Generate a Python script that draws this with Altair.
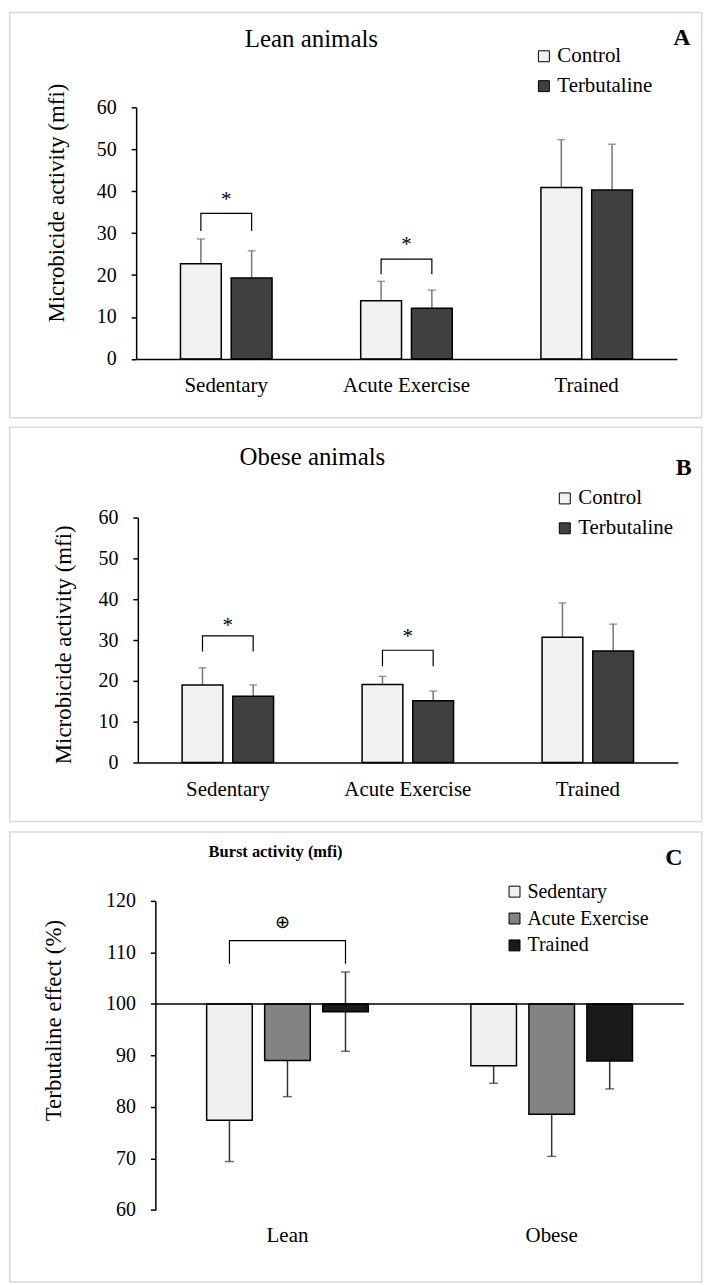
import altair as alt
import pandas as pd

FONT = "Liberation Serif"

# ---------------- data ----------------
groups_ab = ["Sedentary", "Acute Exercise", "Trained"]
series_ab = ["Control", "Terbutaline"]
colors_ab = ["#f2f2f2", "#404040"]

lean_control = [22.7, 13.9, 40.9]
lean_control_sd = [5.9, 4.6, 11.4]
lean_terb = [19.3, 12.1, 40.3]
lean_terb_sd = [6.5, 4.3, 10.9]

obese_control = [19.0, 19.1, 30.7]
obese_control_sd = [4.2, 2.0, 8.4]
obese_terb = [16.2, 15.1, 27.3]
obese_terb_sd = [2.8, 2.4, 6.6]

sig_groups = ["Sedentary", "Acute Exercise"]
lean_sig_top = [34.7, 23.8]
lean_sig_end = [30.5, 20.2]
lean_star = [37.9, 27.1]
obese_sig_top = [31.0, 27.5]
obese_sig_end = [27.2, 23.6]
obese_star = [33.4, 30.7]

groups_c = ["Lean", "Obese"]
series_c = ["Sedentary", "Acute Exercise", "Trained"]
colors_c = ["#f0f0f0", "#838383", "#1a1a1a"]
burst_lean = [77.4, 89.0, 98.5]
burst_lean_err = [8.0, 7.0, 7.7]
burst_obese = [88.0, 78.6, 88.9]
burst_obese_err = [3.4, 8.2, 5.4]
c_sig_top = 112.3
c_sig_end = 107.8
c_sig_mark = 115.8

FS_TICK = 20
FS_CAT = 21
FS_LEG = 21
FS_YT = 23
FRAME = "#d9d9d9"

# every panel's plot area starts at page x = 154.3 (panel C's axis), frame at 8..703
ORIGIN_X = 154.3
FRAME_X = (8 - ORIGIN_X, 703 - ORIGIN_X)


def ab_frame(ctrl, ctrl_sd, terb, terb_sd):
    rows = []
    for i, g in enumerate(groups_ab):
        rows.append({"group": g, "series": series_ab[0], "value": ctrl[i], "sd": ctrl_sd[i]})
        rows.append({"group": g, "series": series_ab[1], "value": terb[i], "sd": terb_sd[i]})
    return pd.DataFrame(rows)


def bracket_frame(groups, pair, top, end):
    rows = []
    for i, g in enumerate(groups):
        pts = [(pair[0], end[i]), (pair[0], top[i]), (pair[1], top[i]), (pair[1], end[i])]
        for k, (s, v) in enumerate(pts):
            rows.append({"group": g, "series": s, "value": v, "ord": k, "id": g})
    return pd.DataFrame(rows)


def text_layer(txt, x, y, size, weight="normal", font=FONT):
    return alt.Chart(pd.DataFrame({"t": [txt]})).mark_text(
        font=font, fontSize=size, fontWeight=weight, color="black", align="center", baseline="middle"
    ).encode(text="t:N", x=alt.value(x), y=alt.value(y))


def frame_layer(y0, y1):
    return alt.Chart(pd.DataFrame({"f": [0]})).mark_rect(
        fill="white", fillOpacity=0, stroke=FRAME, strokeWidth=1.5
    ).encode(x=alt.value(FRAME_X[0]), x2=alt.value(FRAME_X[1]), y=alt.value(y0), y2=alt.value(y1))


def panel_ab(df, brk, star_vals, title, letter, lay):
    axis_x = lay["axis_x"] - ORIGIN_X          # y-axis position relative to plot origin
    end_x = lay["end_x"] - ORIGIN_X
    band = (end_x - axis_x) / 3.0
    W, H = end_x, lay["H"]
    xscale = alt.Scale(domain=groups_ab, range=[axis_x, end_x], paddingInner=0, paddingOuter=0)
    xaxis = alt.Axis(title=None, labelAngle=0, ticks=False, tickSize=0, domainColor="black",
                     domainWidth=1.5, labelFont=FONT, labelFontSize=FS_CAT, labelColor="black",
                     labelPadding=lay["xlabpad"], zindex=1)
    xoff = alt.XOffset("series:N", sort=series_ab,
                       scale=alt.Scale(domain=series_ab, range=[0, band],
                                       paddingInner=0.196, paddingOuter=0.873))
    yscale = alt.Scale(domain=[0, 60], nice=False)
    yaxis = alt.Axis(values=[0, 10, 20, 30, 40, 50, 60], grid=False, domainColor="black",
                     domainWidth=1.5, tickColor="black", tickWidth=1.5, tickSize=5,
                     labelFont=FONT, labelFontSize=FS_TICK, labelColor="black", labelPadding=15,
                     offset=-axis_x,
                     title="Microbicide activity (mfi)", titleFont=FONT,
                     titleFontSize=FS_YT, titleFontWeight="normal", titleColor="black",
                     titleX=lay["ytx"] - lay["axis_x"], titleY=lay["yty"], titleAngle=270,
                     titleAlign="center", titleBaseline="middle", zindex=1)

    def X():
        return alt.X("group:N", sort=groups_ab, scale=xscale, axis=xaxis)

    def Y(f):
        return alt.Y(f, scale=yscale, axis=yaxis)

    base = alt.Chart(df).transform_calculate(top="datum.value + datum.sd")
    err = base.mark_rule(color="#767676", strokeWidth=1.5).encode(
        x=X(), xOffset=xoff, y=Y("value:Q"), y2="top:Q",
    )
    cap = base.mark_tick(color="#767676", thickness=1.5, size=8).encode(
        x=X(), xOffset=xoff, y=Y("top:Q"),
    )
    bars = alt.Chart(df).mark_bar(stroke="black", strokeWidth=1.5).encode(
        x=X(), xOffset=xoff, y=Y("value:Q"),
        color=alt.Color("series:N", sort=series_ab,
                        scale=alt.Scale(domain=series_ab, range=colors_ab),
                        legend=alt.Legend(orient="none", legendX=lay["lx"] - ORIGIN_X,
                                          legendY=lay["ly"] - lay["top"],
                                          title=None, symbolType="square", symbolSize=121,
                                          symbolStrokeColor="black", symbolStrokeWidth=1,
                                          labelFont=FONT, labelFontSize=FS_LEG, labelColor="black",
                                          rowPadding=8, labelOffset=3, padding=0)),
    )
    br = alt.Chart(brk).mark_line(color="black", strokeWidth=1.2).encode(
        x=X(), xOffset=xoff, y=Y("value:Q"), detail="id:N", order="ord:Q",
    )
    stars = alt.Chart(pd.DataFrame({"group": sig_groups, "value": star_vals, "s": ["*", "*"]})).mark_text(
        font=FONT, fontSize=21, color="black", baseline="middle"
    ).encode(x=X(), y=Y("value:Q"), text="s:N")
    fr = frame_layer(lay["frame_y"][0] - lay["top"], lay["frame_y"][1] - lay["top"])
    t1 = text_layer(title, lay["tx"] - ORIGIN_X, lay["ty"] - lay["top"], 25)
    t2 = text_layer(letter, lay["lex"] - ORIGIN_X, lay["ley"] - lay["top"], 24, weight="bold")
    return alt.layer(fr, err, cap, bars, br, stars, t1, t2).properties(width=W, height=H)


lean_df = ab_frame(lean_control, lean_control_sd, lean_terb, lean_terb_sd)
obese_df = ab_frame(obese_control, obese_control_sd, obese_terb, obese_terb_sd)
lean_brk = bracket_frame(sig_groups, series_ab, lean_sig_top, lean_sig_end)
obese_brk = bracket_frame(sig_groups, series_ab, obese_sig_top, obese_sig_end)

# page coordinates of the reference layout
lay_a = dict(axis_x=135, end_x=678, top=103.3, H=252.7, xlabpad=16, ytx=55, yty=95.7,
             lx=534, ly=41.5, tx=311, ty=35, lex=683, ley=34, frame_y=(8, 415))
lay_b = dict(axis_x=136.7, end_x=679, top=512.7, H=246, xlabpad=16, ytx=62, yty=127.3,
             lx=555, ly=483, tx=312, ty=452, lex=685, ley=463, frame_y=(422, 818))

panel_a = panel_ab(lean_df, lean_brk, lean_star, "Lean animals", "A", lay_a)
panel_b = panel_ab(obese_df, obese_brk, obese_star, "Obese animals", "B", lay_b)

# ---------------- panel C ----------------
rows = []
for i, s in enumerate(series_c):
    rows.append({"group": "Lean", "series": s, "value": burst_lean[i], "err": burst_lean_err[i]})
for i, s in enumerate(series_c):
    rows.append({"group": "Obese", "series": s, "value": burst_obese[i], "err": burst_obese_err[i]})
c_df = pd.DataFrame(rows)
c_brk = pd.DataFrame({
    "group": ["Lean"] * 4,
    "series": [series_c[0], series_c[0], series_c[2], series_c[2]],
    "value": [c_sig_end, c_sig_top, c_sig_top, c_sig_end],
    "ord": [0, 1, 2, 3],
})

# plot C spans x 154.3..685, y 895.3..1205.7
C_TOP = 895.3
WC, HC = 685 - ORIGIN_X, 310.4
cxscale = alt.Scale(domain=groups_c, paddingInner=0, paddingOuter=0)
cxaxis = alt.Axis(title=None, labelAngle=0, ticks=False, tickSize=0, domain=False,
                  labelFont=FONT, labelFontSize=FS_CAT, labelColor="black", labelPadding=15, zindex=1)
cxoff = alt.XOffset("series:N", sort=series_c,
                    scale=alt.Scale(domain=series_c, paddingInner=0.214, paddingOuter=0.884))
cyscale = alt.Scale(domain=[60, 120], nice=False, zero=False)
cyaxis = alt.Axis(values=[60, 70, 80, 90, 100, 110, 120], grid=False, domainColor="black",
                  domainWidth=1.5, tickColor="black", tickWidth=1.5, tickSize=5,
                  labelFont=FONT, labelFontSize=FS_TICK, labelColor="black", labelPadding=15,
                  title="Terbutaline effect (%)", titleFont=FONT,
                  titleFontSize=FS_YT, titleFontWeight="normal", titleColor="black",
                  titleX=52 - ORIGIN_X, titleY=1015 - C_TOP, titleAngle=270,
                  titleAlign="center", titleBaseline="middle", zindex=1)


def CX():
    return alt.X("group:N", sort=groups_c, scale=cxscale, axis=cxaxis)


def CY(f):
    return alt.Y(f, scale=cyscale, axis=cyaxis)


cbase = alt.Chart(c_df).transform_calculate(lo="datum.value - datum.err", hi="datum.value + datum.err")
c_err = cbase.mark_rule(color="#333333", strokeWidth=1.5).encode(
    x=CX(), xOffset=cxoff, y=CY("lo:Q"), y2="hi:Q",
)
c_cap_lo = cbase.mark_tick(color="#333333", thickness=1.5, size=9).encode(
    x=CX(), xOffset=cxoff, y=CY("lo:Q"),
)
c_cap_hi = cbase.mark_tick(color="#333333", thickness=1.5, size=9).encode(
    x=CX(), xOffset=cxoff, y=CY("hi:Q"),
)
c_bars = alt.Chart(c_df).mark_bar(stroke="black", strokeWidth=1.5).encode(
    x=CX(), xOffset=cxoff, y=CY("value:Q"), y2=alt.Y2(datum=100),
    color=alt.Color("series:N", sort=series_c,
                    scale=alt.Scale(domain=series_c, range=colors_c),
                    legend=alt.Legend(orient="none", legendX=505 - ORIGIN_X, legendY=876 - C_TOP,
                                      title=None, symbolType="square", symbolSize=121,
                                      symbolStrokeColor="black", symbolStrokeWidth=1,
                                      labelFont=FONT, labelFontSize=20, labelColor="black",
                                      rowPadding=7, labelOffset=3, padding=0)),
)
c_base_line = alt.Chart(pd.DataFrame({"v": [100]})).mark_rule(color="black", strokeWidth=1.5).encode(
    y=CY("v:Q"),
)
c_br = alt.Chart(c_brk).mark_line(color="black", strokeWidth=1.2).encode(
    x=CX(), xOffset=cxoff, y=CY("value:Q"), order="ord:Q",
)
c_mark = alt.Chart(pd.DataFrame({"group": ["Lean"], "value": [c_sig_mark], "s": ["⊕"]})).mark_text(
    font="DejaVu Sans", fontSize=18, color="black", baseline="middle", dx=-5
).encode(x=CX(), y=CY("value:Q"), text="s:N")
c_fr = frame_layer(826 - C_TOP, 1278 - C_TOP)
c_t1 = text_layer("Burst activity (mfi)", 275 - ORIGIN_X, 846 - C_TOP, 16.5, weight="bold")
c_t2 = text_layer("C", 675 - ORIGIN_X, 852 - C_TOP, 24, weight="bold")

panel_c = alt.layer(c_fr, c_err, c_cap_lo, c_cap_hi, c_bars, c_base_line, c_br, c_mark, c_t1, c_t2).properties(
    width=WC, height=HC
)

chart = alt.concat(panel_a, panel_b, panel_c, columns=1, spacing=7).resolve_scale(
    color="independent", x="independent", y="independent", xOffset="independent"
).resolve_legend(color="independent").properties(
    padding=0, background="white"
).configure_view(
    stroke=None
)

chart.save("out.html", embed_options={"renderer": "svg", "actions": False})
